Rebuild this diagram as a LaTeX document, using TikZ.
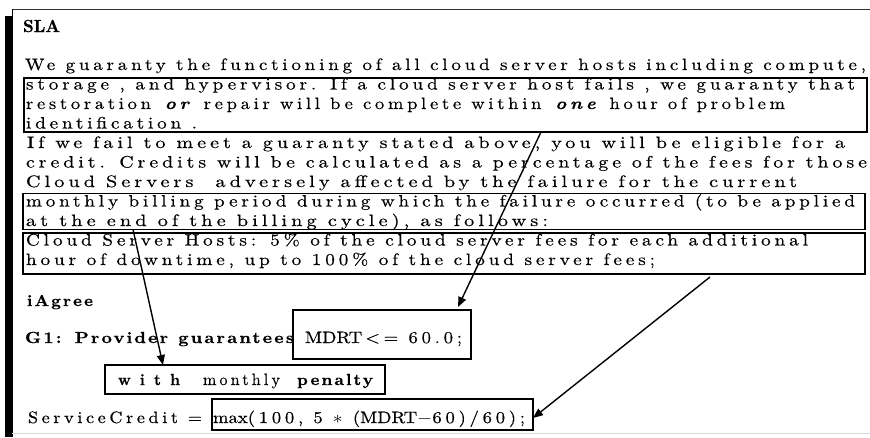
\documentclass[tikz,border=0pt]{standalone}
\usepackage{fontspec}
\setmainfont{lmroman10}[Extension=.otf, UprightFont=*-regular, BoldFont=*-bold, ItalicFont=*-italic, BoldItalicFont=*-bolditalic]
\usepackage{graphicx}
\usetikzlibrary{arrows.meta,calc}
\newcommand{\lsp}{\addfontfeatures{LetterSpace=20,FakeBold=0.4}\spaceskip=9pt\relax}
\newcommand{\bsp}[1]{\addfontfeatures{LetterSpace=#1,FakeBold=0.6}\spaceskip=9pt\relax}
\newcommand{\fitw}[2]{\resizebox{#1}{\height}{#2}}
\begin{document}
\begin{tikzpicture}[x=1pt,y=-1pt,
  txt/.style={anchor=base west, inner sep=0pt, outer sep=0pt, font=\fontsize{16.5}{19}\selectfont},
  btxt/.style={txt, font=\bfseries\fontsize{16}{19}\selectfont},
  hbox/.style={draw=black, line width=1.6pt, anchor=north west, inner sep=0pt, outer sep=0pt},
  arr/.style={-{Triangle[length=10pt,width=8pt]}, line width=1.4pt}]
\useasboundingbox (0,0) rectangle (870,437);
\fill[white] (0,0) rectangle (870,437);
% frame
\draw[line width=0.8pt, black!80] (12,9) -- (870,9);
\draw[line width=0.8pt] (12,9) -- (12,437);
\fill[black] (5,16) rectangle (12,437);
\draw[black!15, line width=1pt] (12,433) -- (870,433);

% highlight boxes
\node[hbox, minimum width=843pt, minimum height=54pt] (b1) at (24,78) {};
\node[hbox, minimum width=842pt, minimum height=36pt] (b2) at (23,193.5) {};
\node[hbox, minimum width=842pt, minimum height=41pt] (b3) at (23,233) {};
\node[hbox, minimum width=178pt, minimum height=49pt] (mdrt) at (293,310) {};
\node[hbox, minimum width=280pt, minimum height=29pt] (wbox) at (105,365) {};
\node[hbox, minimum width=321pt, minimum height=31pt] (maxbox) at (212,399) {};

% title
\node[txt, font=\bfseries\fontsize{17.5}{20}\selectfont] (sla) at (23,32) {\fitw{37pt}{\addfontfeatures{FakeBold=0.5}SLA}};

% body lines
\node[txt] (l1) at (25,70) {\fitw{841pt}{\lsp We guaranty the functioning of all cloud server hosts including compute,}};
\node[txt] (l2) at (26,89.5) {\fitw{829pt}{\lsp storage , and hypervisor. If a cloud server host fails , we guaranty that}};
\node[txt] (l3) at (26,109) {\fitw{759pt}{\lsp restoration \textbf{\textit{or}} repair will be complete within \textbf{\textit{one}} hour of problem}};
\node[txt] (l4) at (26,128.5) {\fitw{171pt}{\lsp identification .}};
\node[txt] (l5) at (27,148) {\fitw{818pt}{\lsp If we fail to meet a guaranty stated above, you will be eligible for a}};
\node[txt] (l6) at (26,167.5) {\fitw{841pt}{\lsp credit. Credits will be calculated as a percentage of the fees for those}};
\node[txt] (l7) at (26,187) {\fitw{771pt}{\lsp Cloud Servers\ \ adversely affected by the failure for the current}};
\node[txt] (l8) at (26,206.5) {\fitw{829pt}{\lsp monthly billing period during which the failure occurred (to be applied}};
\node[txt] (l9) at (26,226) {\fitw{522pt}{\lsp at the end of the billing cycle), as follows:}};
\node[txt] (l10) at (26,245.5) {\fitw{782pt}{\lsp Cloud Server Hosts: 5\% of the cloud server fees for each additional}};
\node[txt] (l11) at (26,265) {\fitw{629pt}{\lsp hour of downtime, up to 100\% of the cloud server fees;}};

% iAgree part
\node[btxt] (iag) at (27,306) {\fitw{66pt}{\bsp{12}iAgree}};
\node[btxt] (g1) at (25,343) {\fitw{269pt}{\bsp{12}G1: Provider guarantees}};
\node[txt] (mdrtt) at (305,343) {\fitw{157pt}{{\addfontfeatures{FakeBold=0.4}MDRT}\,{\lsp <= 60.0;}}};
\node[btxt] (w1) at (118,385) {\fitw{62pt}{\bsp{60}with}};
\node[txt] (w2) at (203,385) {\fitw{77pt}{\lsp monthly}};
\node[btxt] (w3) at (297,385) {\fitw{76pt}{\bsp{12}penalty}};
\node[txt] (sc) at (28,423) {\fitw{174pt}{\lsp ServiceCredit =}};
\node[txt] (maxt) at (213,423) {\fitw{312pt}{{\addfontfeatures{FakeBold=0.4}max}{\lsp (100, 5 $\ast$ (}{\addfontfeatures{FakeBold=0.4}MDRT}$-${\lsp 60)/60);}}};

% connectors
\coordinate (a1s) at ($(b1.south west)+(517,0)$);
\coordinate (a1e) at ($(mdrt.north east)+(-13,-3)$);
\coordinate (a2s) at ($(b2.south west)+(110,0)$);
\coordinate (a2e) at ($(wbox.north west)+(58,0)$);
\coordinate (a3s) at (710,277);
\coordinate (a3e) at ($(maxbox.north east)+(0,19)$);
\draw[arr] (a1s) -- (a1e);
\draw[arr] (a2s) -- (a2e);
\draw[arr] (a3s) -- (a3e);
\end{tikzpicture}
\end{document}
